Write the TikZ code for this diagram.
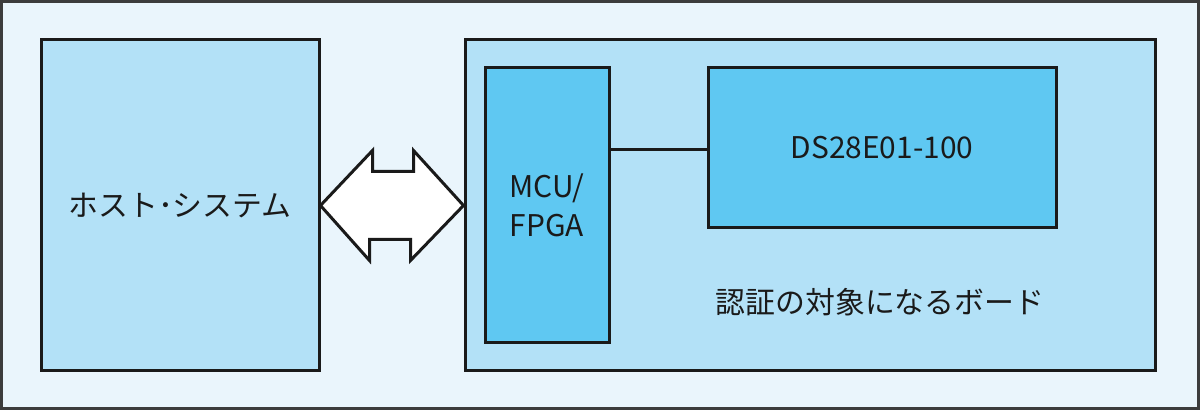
\documentclass[tikz,border=0pt]{standalone}
\usepackage{fontspec}
\setmainfont{Noto Sans CJK JP}
\usepackage{tikz}
\usetikzlibrary{positioning}
\definecolor{bgpale}{HTML}{EAF5FC}
\definecolor{boxlight}{HTML}{B3E1F7}
\definecolor{boxdeep}{HTML}{5FC8F2}
\definecolor{edgeink}{HTML}{1A1A1A}

\begin{document}
\begin{tikzpicture}[
      block/.style={rectangle, draw=edgeink, line width=0.03cm, inner sep=0pt},
      outerblock/.style={block, fill=boxlight},
      chip/.style={block, fill=boxdeep, align=center},
      dblarrow/.style={draw=edgeink, line width=0.03cm, fill=white, line join=miter},
      every node/.style={font=\fontsize{8.5}{11}\selectfont, text=edgeink},
    ]
    \useasboundingbox (0,0) rectangle (12,4.10);
    % frame of the whole figure
    \draw[fill=bgpale, draw=edgeink!85, line width=0.03cm] (0.015,0.015) rectangle (11.985,4.085);
    % host side and board side
    \node[outerblock, minimum width=2.78cm, minimum height=3.31cm] (host) at (1.80,2.045) {ホスト･システム};
    \node[outerblock, minimum width=6.90cm, minimum height=3.31cm] (board) at (8.10,2.045) {};
    % parts on the board
    \node[chip, minimum width=1.24cm, minimum height=2.75cm] (mcu) at (5.47,2.045) {MCU/\\FPGA};
    \node[chip, minimum width=3.48cm, minimum height=1.60cm] (auth) at (8.82,2.62) {DS28E01-100};
    \node (boardlabel) at (8.80,1.08) {認証の対象になるボード};
    % link between host and board
    \draw[dblarrow] (host.east) -- ++(0.52,0.55) -- ++(0,-0.21) -- ++(0.41,0) -- ++(0,0.21)
      -- (board.west) -- ++(-0.53,-0.55) -- ++(0,0.21) -- ++(-0.41,0) -- ++(0,-0.21) -- cycle;
    \draw[edgeink, line width=0.03cm] (mcu.east |- 0,2.60) -- (auth.west |- 0,2.60);
  \end{tikzpicture}
\end{document}
